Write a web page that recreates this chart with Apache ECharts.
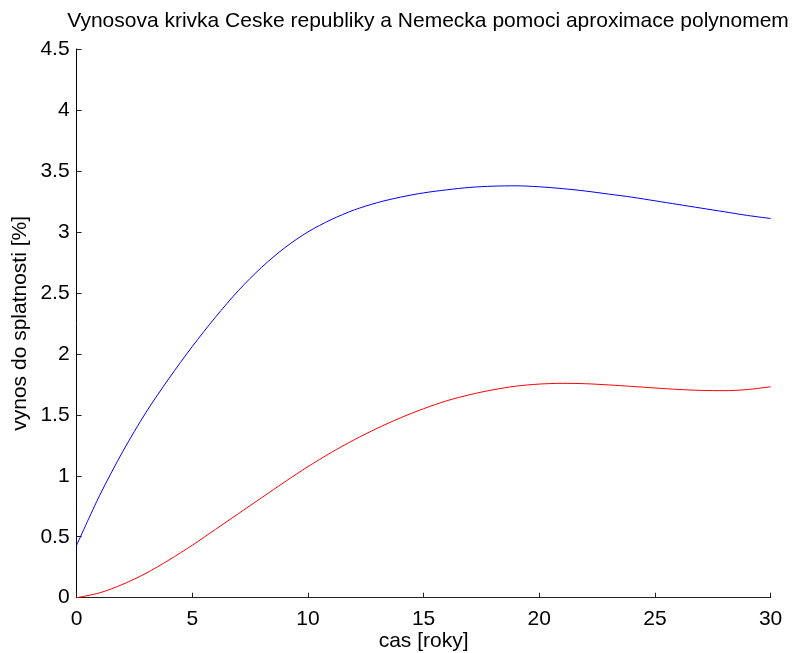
<!DOCTYPE html>
<html>
<head>
<meta charset="utf-8">
<script src="https://cdn.jsdelivr.net/npm/echarts@6/dist/echarts.min.js"></script>
<style>
  html, body { margin: 0; padding: 0; background: #fff; }
  #chart { width: 795px; height: 653px; }
</style>
</head>
<body>
<div id="chart"></div>
<script>
// Maturity in years
const years = [0,1,2,3,4,5,6,7,8,9,10,11,12,13,14,15,16,17,18,19,20,21,22,23,24,25,26,27,28,29,30];
// Yield to maturity [%], Czech Republic (polynomial fit)
const czYield = [0.43,0.84,1.20,1.52,1.80,2.06,2.30,2.52,2.71,2.87,3.00,3.10,3.18,3.24,3.285,3.32,3.345,3.365,3.375,3.378,3.37,3.355,3.335,3.31,3.285,3.255,3.225,3.195,3.165,3.135,3.11];
// Yield to maturity [%], Germany (polynomial fit)
const deYield = [0.00,0.04,0.11,0.20,0.31,0.43,0.56,0.69,0.82,0.95,1.075,1.19,1.295,1.39,1.475,1.55,1.615,1.665,1.705,1.735,1.752,1.758,1.755,1.745,1.733,1.72,1.708,1.70,1.698,1.707,1.73];

const font = 'Liberation Sans, Arial, Helvetica, sans-serif';
const fs = 21;

const chart = echarts.init(document.getElementById('chart'), null, { renderer: 'canvas' });
chart.setOption({
  animation: false,
  backgroundColor: '#fff',
  title: {
    text: 'Vynosova krivka Ceske republiky a Nemecka pomoci aproximace polynomem',
    left: 423, textAlign: 'center', top: 6,
    textStyle: { fontFamily: font, fontSize: fs, fontWeight: 'normal', color: '#000' }
  },
  grid: { left: 76.6, right: 24.4, top: 49, bottom: 55.3, containLabel: false, outerBoundsMode: 'none' },
  xAxis: {
    type: 'value', min: 0, max: 30, interval: 5,
    name: 'cas [roky]', nameLocation: 'middle', nameGap: 33, nameMoveOverlap: false,
    nameTextStyle: { fontFamily: font, fontSize: fs, color: '#000' },
    axisLine: { show: true, onZero: false, lineStyle: { color: '#222', width: 1 } },
    axisTick: { show: true, inside: true, length: 5, lineStyle: { color: '#222' } },
    axisLabel: { fontFamily: font, fontSize: fs, color: '#000', margin: 11 },
    splitLine: { show: false }
  },
  yAxis: {
    type: 'value', min: 0, max: 4.5, interval: 0.5,
    name: 'vynos do splatnosti [%]', nameLocation: 'middle', nameGap: 46, nameRotate: 90, nameMoveOverlap: false,
    nameTextStyle: { fontFamily: font, fontSize: fs, color: '#000' },
    axisLine: { show: true, onZero: false, lineStyle: { color: '#000', width: 1 } },
    axisTick: { show: true, inside: true, length: 5, lineStyle: { color: '#222' } },
    axisLabel: { fontFamily: font, fontSize: fs, color: '#000', margin: 7 },
    splitLine: { show: false }
  },
  series: [
    {
      type: 'line', name: 'CZ', data: years.map((x, i) => [x, czYield[i]]),
      smooth: 0.3, showSymbol: false, lineStyle: { color: '#0000ff', width: 1 }
    },
    {
      type: 'line', name: 'DE', data: years.map((x, i) => [x, deYield[i]]),
      smooth: 0.3, showSymbol: false, lineStyle: { color: '#ff0000', width: 1 }
    }
  ]
});
</script>
</body>
</html>
